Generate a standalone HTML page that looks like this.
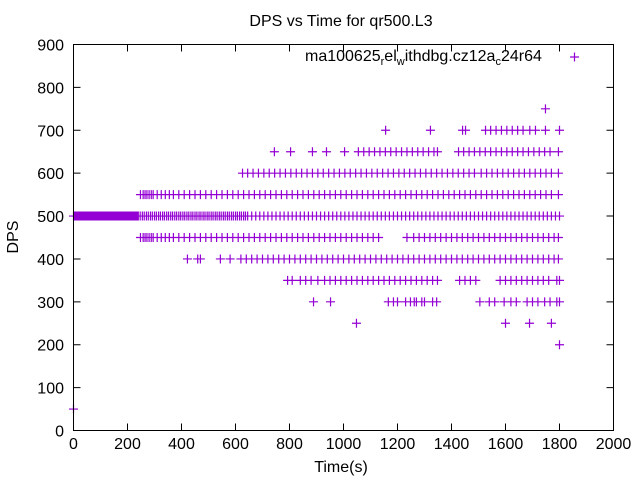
<!DOCTYPE html>
<html><head><meta charset="utf-8"><style>
body{margin:0;background:#fff}
svg text{font-family:"Liberation Sans",sans-serif;font-size:16px;fill:#000}
</style></head><body>
<svg id="c" width="640" height="480" xmlns="http://www.w3.org/2000/svg">
<rect width="640" height="480" fill="#fff"/>
<text x="341" y="26" text-anchor="middle">DPS vs Time for qr500.L3</text>
<text x="305" y="61">ma100625<tspan font-size="11" dy="4">r</tspan><tspan dy="-4">el</tspan><tspan font-size="11" dy="4">w</tspan><tspan dy="-4">ithdbg.cz12a</tspan><tspan font-size="11" dy="4">c</tspan><tspan dy="-4">24r64</tspan></text>
<g id="legendkey"><path d="M570 57h9M574.5 52.5v9" stroke="#9400d3" stroke-width="1.2"/></g>
<text x="341" y="472" text-anchor="middle">Time(s)</text>
<text transform="translate(18,237) rotate(-90)" text-anchor="middle">DPS</text>
<g id="axes"></g>
<g id="marks"></g>
<rect x="73.5" y="44.5" width="540" height="386" fill="none" stroke="#000"/>
</svg>
<script>
const xTicks=[0,200,400,600,800,1000,1200,1400,1600,1800,2000];
const yTicks=[0,100,200,300,400,500,600,700,800,900];
const levels=[50,200,250,300,350,400,450,500,550,600,650,700,750];
const t50=[0];
const t200=[1800];
const t250=[1048,1600,1689,1770];
const t300=[889,952,1166,1185,1200,1230,1248,1262,1270,1290,1300,1330,1345,1505,1540,1560,1595,1620,1640,1680,1700,1720,1745,1765,1790,1800];
const t350=[793,810,840,860,880,905,930,950,970,990,1010,1030,1050,1070,1090,1110,1130,1150,1170,1190,1210,1230,1250,1270,1290,1310,1330,1348,1430,1450,1470,1490,1580,1600,1620,1640,1660,1680,1700,1720,1740,1760,1790,1800];
const t400=[422,460,470,544,580,620,640,660,680,700,720,740,760,780,800,820,840,860,880,900,920,940,960,980,1000,1020,1040,1060,1080,1100,1120,1140,1160,1180,1200,1220,1240,1260,1280,1300,1320,1340,1360,1380,1400,1420,1440,1460,1480,1500,1520,1540,1560,1580,1600,1620,1640,1660,1680,1700,1720,1740,1760,1780,1796];
const t450=[248,258,265,272,280,288,295,310,325,340,355,370,390,410,430,450,470,490,510,530,550,570,590,610,630,650,670,690,710,730,750,770,790,810,830,850,870,890,910,930,950,970,990,1010,1030,1050,1070,1090,1110,1130,1235,1260,1280,1300,1320,1340,1360,1380,1400,1420,1440,1460,1480,1500,1520,1540,1560,1580,1600,1620,1640,1660,1680,1700,1720,1740,1760,1780,1796];
const t500=[0,4,8,12,16,20,24,28,32,36,40,44,48,52,56,60,64,68,72,76,80,84,88,92,96,100,104,108,112,116,120,124,128,132,136,140,144,148,152,156,160,164,168,172,176,180,184,188,192,196,200,204,208,212,216,220,224,228,232,236,240,247,255,262,270,277,285,292,300,307,315,322,330,337,345,352,360,367,375,382,390,397,405,412,420,427,435,442,450,457,465,472,480,487,495,502,510,517,525,532,540,547,555,562,570,577,585,592,600,607,615,622,630,637,645,660,675,690,705,720,735,750,765,780,795,810,825,840,855,870,885,900,915,930,945,960,975,990,1005,1020,1035,1050,1065,1080,1095,1110,1125,1140,1155,1170,1185,1200,1215,1230,1245,1260,1275,1290,1305,1320,1335,1350,1365,1380,1395,1410,1425,1440,1455,1470,1485,1500,1515,1530,1545,1560,1575,1590,1605,1620,1635,1650,1665,1680,1695,1710,1725,1740,1755,1770,1785,1800];
const t550=[248,258,265,272,280,288,295,310,325,340,355,370,390,410,430,450,470,490,510,530,550,570,590,610,630,650,670,690,710,730,750,770,790,810,830,850,870,890,910,930,950,970,990,1010,1030,1050,1070,1090,1110,1130,1150,1170,1190,1210,1230,1250,1270,1290,1310,1330,1350,1370,1390,1410,1430,1450,1470,1490,1510,1530,1550,1570,1590,1610,1630,1650,1670,1690,1710,1730,1750,1770,1796];
const t600=[626,645,665,685,705,725,745,765,785,805,825,845,865,885,905,925,945,965,985,1005,1025,1045,1065,1085,1105,1125,1145,1165,1185,1205,1225,1245,1265,1285,1305,1325,1345,1365,1385,1405,1425,1445,1465,1485,1510,1530,1550,1570,1590,1610,1630,1650,1670,1690,1710,1730,1750,1770,1796];
const t650=[744,804,885,937,1004,1055,1075,1095,1115,1135,1155,1175,1195,1215,1235,1255,1275,1295,1315,1335,1348,1426,1445,1465,1485,1505,1525,1545,1565,1585,1605,1625,1645,1665,1685,1705,1725,1745,1765,1796];
const t700=[1156,1322,1441,1452,1526,1545,1565,1585,1605,1625,1645,1665,1690,1711,1748,1800];
const t750=[1748];
const series=[t50,t200,t250,t300,t350,t400,t450,t500,t550,t600,t650,t700,t750];
const X=v=>73.5+v*0.27, Y=v=>430.5-v*(386/900);
const ns="http://www.w3.org/2000/svg";
const ax=document.getElementById('axes'), mk=document.getElementById('marks');
function mkEl(t,a,p){const e=document.createElementNS(ns,t);for(const k in a)e.setAttribute(k,a[k]);p.appendChild(e);return e;}
xTicks.forEach(v=>{
  const l=mkEl('path',{d:`M${X(v)} 430.5v-7M${X(v)} 44.5v7`,stroke:'#000'},ax);
  
  
  const t=mkEl('text',{x:X(v),y:449,'text-anchor':'middle'},ax);t.textContent=v;
  
  
});
yTicks.forEach(v=>{
  const l=mkEl('path',{d:`M73.5 ${Y(v)}h7M613.5 ${Y(v)}h-7`,stroke:'#000'},ax);
  
  
  const t=mkEl('text',{x:64,y:Y(v)+6,'text-anchor':'end'},ax);t.textContent=v;
  
  
});
let d='';
series.forEach((arr,i)=>{arr.forEach(t=>{const x=X(t),y=Y(levels[i]);d+=`M${x-4.5} ${y}h9M${x} ${y-4.5}v9`;});});
const p=mkEl('path',{d:d,stroke:'#9400d3','stroke-width':1.2,fill:'none'},mk);


</script>
</body></html>
